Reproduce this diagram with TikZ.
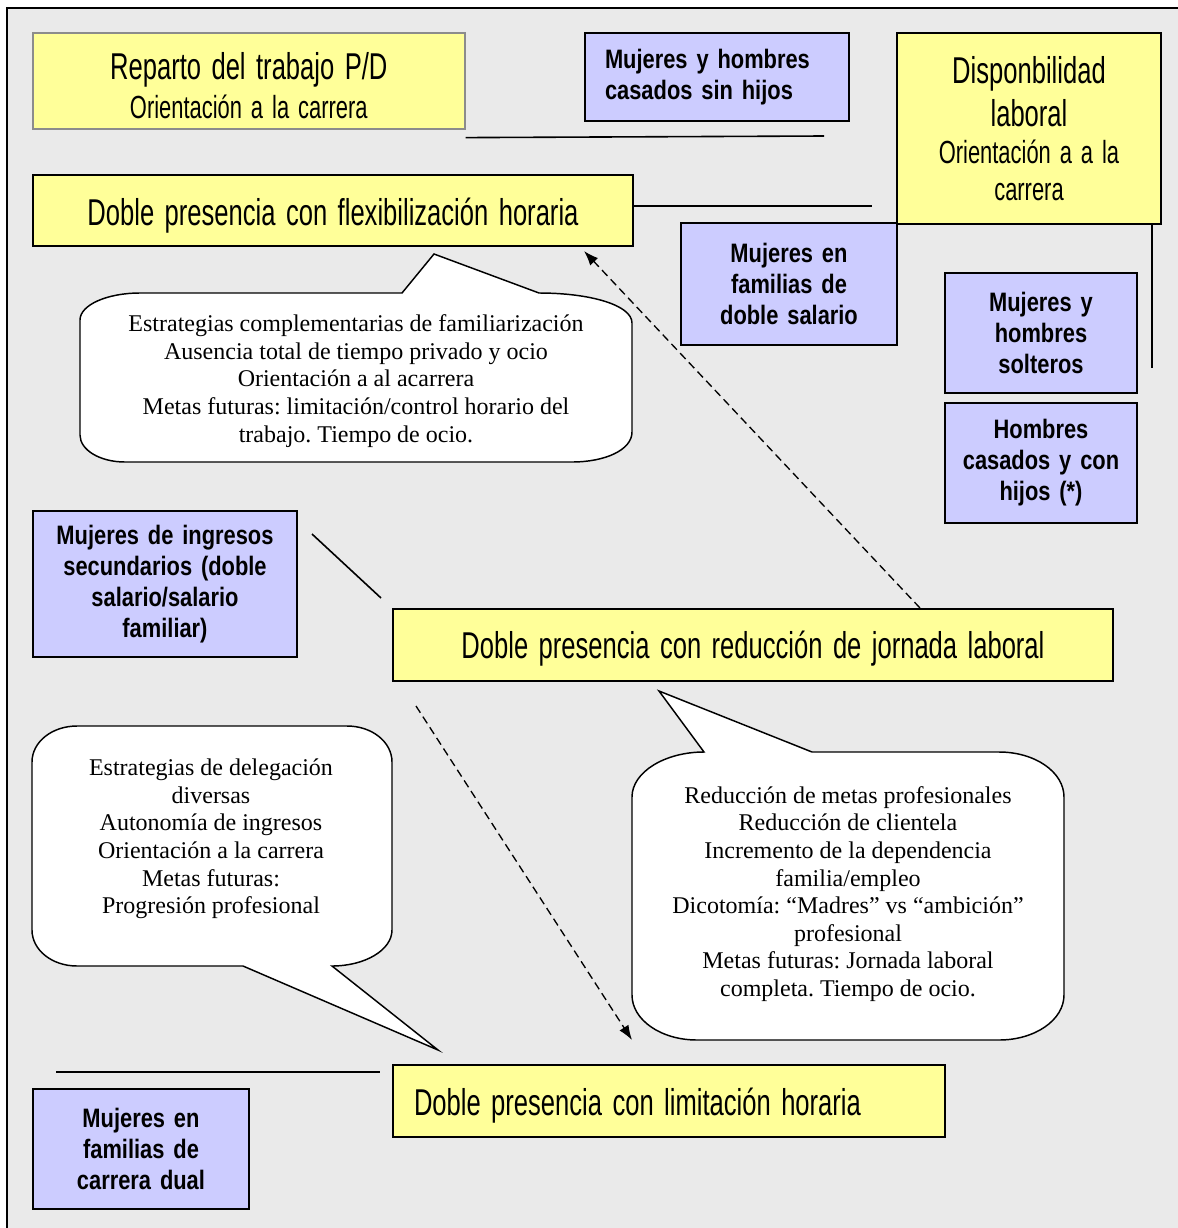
\documentclass[tikz,border=0pt]{standalone}
\usepackage{fontspec}
\setmainfont{Liberation Serif}
\newfontfamily\agency[FakeStretch=0.685]{Liberation Sans}
\newfontfamily\narrowsans[FakeStretch=0.82]{Liberation Sans}
\usetikzlibrary{arrows.meta,calc}
\newdimen\px \px=0.75pt
\definecolor{paneGray}{HTML}{EAEAEA}
\definecolor{noteYellow}{HTML}{FFFF99}
\definecolor{groupBlue}{HTML}{CCCCFF}
\newcommand{\bigag}{\agency\fontsize{28}{32}\selectfont\spaceskip=0.28em\relax}
\newcommand{\smallag}{\agency\fontsize{24}{27.75}\selectfont\spaceskip=0.28em\relax}
\newcommand{\narrowbold}{\narrowsans\bfseries\fontsize{20}{23.25}\selectfont\spaceskip=0.15em\relax}
\newcommand{\lowered}[2]{\raisebox{-#1\px}[\height][\depth]{#2}}
\frenchspacing
\tikzset{
  ybox/.style={draw=black, line width=1.5pt, fill=noteYellow, inner sep=0pt,
    anchor=north west, align=center},
  bbox/.style={draw=black, line width=1.5pt, fill=groupBlue, inner sep=0pt,
    anchor=north west, align=center, font=\narrowbold},
  bubble/.style={draw=black, line width=1.1pt, fill=white, line join=miter},
  bubbletext/.style={align=center, inner sep=0pt,
    font=\fontsize{18}{20.7}\selectfont},
  link/.style={draw=black, line width=1.2pt},
  flow/.style={draw=black, line width=1pt, dash pattern=on 6pt off 3.5pt,
    -{Latex[length=11pt,width=8pt]}},
}
\begin{document}
\frenchspacing
\begin{tikzpicture}[x=0.75pt,y=-0.75pt]
\useasboundingbox (0,0) rectangle (1178,1228);
% panel
\fill[paneGray] (7,8) rectangle (1178,1228);
\draw[line width=1.5pt] (7,1228) -- (7,8) -- (1178,8);

% top row
\node[ybox, draw=black!45, line width=1.2pt, minimum width=432\px, minimum height=96\px]
  (reparto) at (32,32)
  {\lowered{5}{\parbox{432\px}{\centering{\bigag Reparto del trabajo P/D\par}{\smallag\baselineskip=29pt Orientación a la carrera\par}}}};
\node[bbox, align=left, inner xsep=20\px, text width=224\px, minimum height=88\px]
  (casados) at (584,32) {Mujeres y hombres\\casados sin hijos};
\node[bbox, text width=216\px, minimum height=122\px]
  (dobles) at (680,222) {Mujeres en\\familias de\\doble salario};
\node[ybox, text width=264\px, minimum height=191\px]
  (dispo) at (896,32)
  {{\bigag Disponbilidad\par laboral\par}{\smallag Orientación a a la\par carrera\par}};

\node[ybox, text width=600\px, minimum height=71\px]
  (flex) at (32,174) {\bigag\lowered{5}{Doble presencia con flexibilización horaria}};

\node[bbox, text width=192\px, minimum height=120\px]
  (solteros) at (944,272) {Mujeres y\\hombres\\solteros};
\node[bbox, text width=192\px, minimum height=120\px]
  (hijos) at (944,402) {Hombres\\casados y con\\hijos (*)};

\node[bbox, text width=264\px, minimum height=146\px]
  (ingresos) at (32,510) {Mujeres de ingresos\\secundarios (doble\\salario/salario\\familiar)};

\node[ybox, text width=720\px, minimum height=72\px]
  (reduc) at (392,608) {\bigag\lowered{4}{Doble presencia con reducción de jornada laboral}};

\node[ybox, align=left, inner xsep=21\px, text width=510\px, minimum height=72\px]
  (limit) at (392,1064) {\bigag\lowered{5}{Doble presencia con limitación horaria}};

\node[bbox, text width=216\px, minimum height=120\px]
  (dual) at (32,1088) {Mujeres en\\familias de\\carrera dual};

% plain rules
\coordinate (ruleA) at (824,136);
\draw[link] ($(reparto.south east)+(0,8)$) -- (ruleA);
\coordinate (ruleB) at (872,206);
\draw[link] (flex.east |- ruleB) -- (ruleB);
\coordinate (ruleC) at (1152,368);
\draw[link] (dispo.south -| ruleC) -- (ruleC);
\coordinate (ruleD1) at (312,534);
\coordinate (ruleD2) at (381,598);
\draw[link] (ruleD1) -- (ruleD2);
\coordinate (ruleE1) at (56,1072);
\coordinate (ruleE2) at (380,1072);
\draw[link] (ruleE1) -- (ruleE2);

% speech bubbles
\draw[bubble] (140,293) -- (402,293) -- (434,254) -- (539,293)
  .. controls (590,293) and (632,305) .. (632,323) -- (632,432)
  .. controls (632,450) and (605,462) .. (572,462) -- (125,462)
  .. controls (100,462) and (80,450) .. (80,435) -- (80,320)
  .. controls (80,305) and (107,293) .. (140,293) -- cycle;
\node[bubbletext] (noteflex) at (356,381)
  {Estrategias complementarias de familiarización\\
   Ausencia total de tiempo privado y ocio\\
   Orientación a al acarrera\\
   Metas futuras: limitación/control horario del\\
   trabajo. Tiempo de ocio.};

\draw[bubble] (77,726) -- (347,726)
  .. controls (372,726) and (392,742) .. (392,762) -- (392,930)
  .. controls (392,950) and (365,966) .. (332,966) -- (438,1050)
  -- (243,966) -- (77,966)
  .. controls (52,966) and (32,950) .. (32,930) -- (32,762)
  .. controls (32,742) and (52,726) .. (77,726) -- cycle;
\node[bubbletext] (notelimit) at (211,839)
  {Estrategias de delegación\\
   diversas\\
   Autonomía de ingresos\\
   Orientación a la carrera\\
   Metas futuras:\\
   Progresión profesional};

\draw[bubble] (632,797) .. controls (632,772) and (665,752) .. (704,752)
  -- (659,691) -- (812,752) -- (999,752)
  .. controls (1035,752) and (1064,772) .. (1064,797) -- (1064,995)
  .. controls (1064,1020) and (1035,1040) .. (999,1040) -- (697,1040)
  .. controls (661,1040) and (632,1020) .. (632,995) -- cycle;
\node[bubbletext] (notereduc) at (848,894)
  {Reducción de metas profesionales\\
   Reducción de clientela\\
   Incremento de la dependencia\\
   familia/empleo\\
   Dicotomía: “Madres” vs “ambición”\\
   profesional\\
   Metas futuras: Jornada laboral\\
   completa. Tiempo de ocio.};

% transitions between strategies
\draw[flow] ($(reduc.north west)+(528,0)$) -- ($(flex.south west)+(552,4)$);
\coordinate (limitEntry) at (632,1040);
\draw[flow] ($(reduc.south west)+(24,24)$) -- (limitEntry);
\end{tikzpicture}
\end{document}
